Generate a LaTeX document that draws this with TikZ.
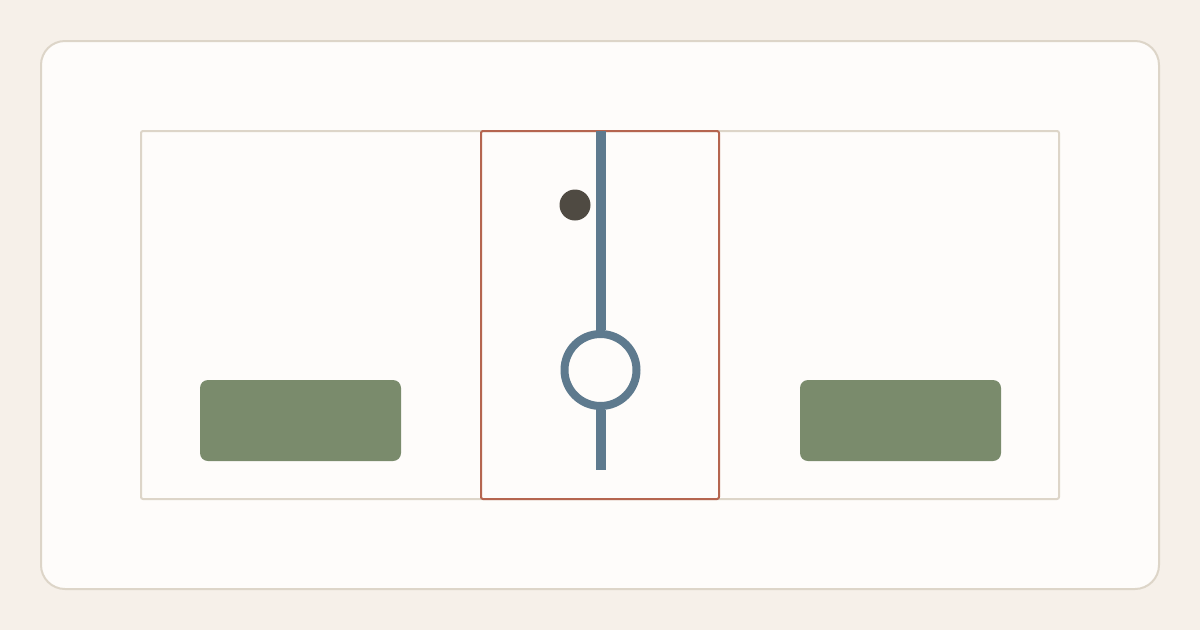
\documentclass[tikz,border=0pt]{standalone}
\begin{document}
\begin{tikzpicture}[x=1pt,y=-1pt,
  card/.style={draw=cardline,line width=2pt,fill=cardfill,rounded corners=24pt},
  frame/.style={draw=cardline,line width=2pt,rounded corners=2pt},
  hilite/.style={draw=redline,line width=2pt,rounded corners=2pt},
  wire/.style={draw=bluewire,line width=10pt},
  ring/.style={circle,draw=bluewire,line width=8pt,fill=cardfill,minimum size=72pt,inner sep=0pt},
  puck/.style={circle,fill=darkdot,minimum size=31pt,inner sep=0pt},
  pad/.style={fill=padgreen,rounded corners=8pt,minimum width=201pt,minimum height=81pt,inner sep=0pt}]
\definecolor{bg}{HTML}{F6F0E9}
\definecolor{cardfill}{HTML}{FEFCFA}
\definecolor{cardline}{HTML}{DDD5C8}
\definecolor{redline}{HTML}{B5654F}
\definecolor{bluewire}{HTML}{5E7A8E}
\definecolor{darkdot}{HTML}{4F4A42}
\definecolor{padgreen}{HTML}{7A8B6C}
\fill[bg] (0,0) rectangle (1200,630);
\useasboundingbox (0,0) rectangle (1200,630);
\draw[card] (41,41) rectangle (1159,589);
\draw[frame] (141,131) rectangle (1059,499);
\draw[hilite] (481,131) rectangle (719,499);
\node[pad] (padL) at (300.5,420.5) {};
\node[pad] (padR) at (900.5,420.5) {};
\coordinate (wtop) at (600.5,131);
\coordinate (wbot) at (600.5,470);
\node[ring] (ring) at (600.5,370) {};
\draw[wire] (wtop) -- (ring.north);
\draw[wire] (ring.south) -- (wbot);
\node[puck] (dot) at (575,205) {};
\end{tikzpicture}
\end{document}
